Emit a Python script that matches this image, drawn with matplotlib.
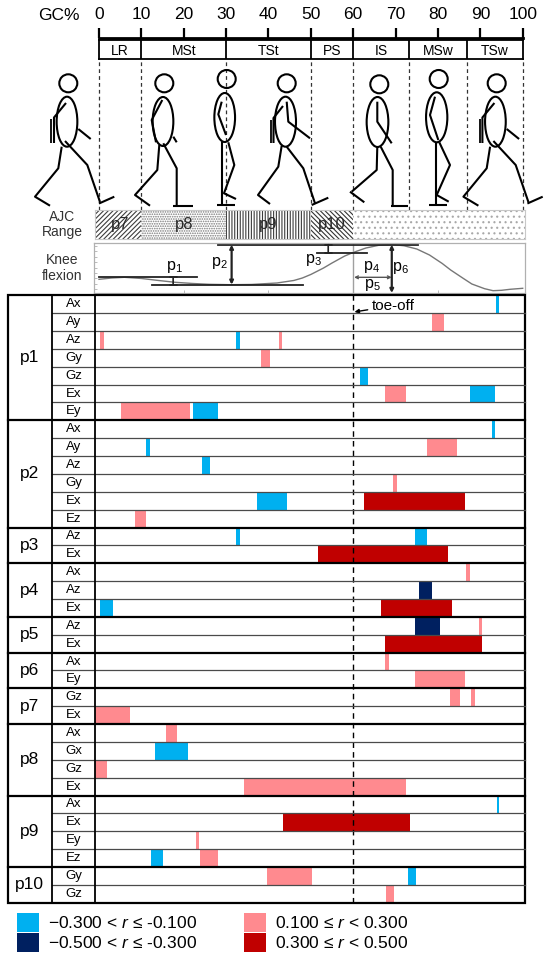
import numpy as np
import matplotlib
matplotlib.use('Agg')
import matplotlib.pyplot as plt
from matplotlib.patches import Circle, Ellipse, Rectangle

plt.rcParams['font.family'] = ['Liberation Sans', 'DejaVu Sans']
plt.rcParams['mathtext.fontset'] = 'custom'
plt.rcParams['mathtext.rm'] = 'Liberation Sans'
plt.rcParams['mathtext.it'] = 'Liberation Sans:italic'
plt.rcParams['mathtext.default'] = 'regular'
plt.rcParams['hatch.linewidth'] = 0.8

# --- data -------------------------------------------------------------
gc_ticks = [0, 10, 20, 30, 40, 50, 60, 70, 80, 90, 100]
phase_names = ['LR', 'MSt', 'TSt', 'PS', 'IS', 'MSw', 'TSw']
phase_edges = [0, 10, 30, 50, 60, 73.2, 86.8, 100]

ajc_names = ['p7', 'p8', 'p9', 'p10']
ajc_start = [-1, 10, 30, 50]
ajc_end = [10, 30, 50, 60]

# knee flexion (deg)
knee_gc = [0, 3, 6, 10, 14, 18, 22, 26, 31, 36, 42, 46, 48, 50, 53, 55, 58, 60,
           63, 66, 69, 72, 75, 78, 81, 83, 86, 88, 91, 93, 95, 97, 100]
knee_deg = [17.8, 19.5, 20.4, 18.9, 16.3, 13.9, 12.4, 11.3, 10.8, 11.1, 13.0, 16.3,
            19.5, 24.1, 32.5, 39.0, 48.1, 52.7, 58.5, 62.0, 63.1, 61.4, 57.2, 49.4,
            38.4, 29.9, 18.9, 11.7, 5.6, 3.0, 3.5, 4.8, 6.1]

groups = ['p1', 'p2', 'p3', 'p4', 'p5', 'p6', 'p7', 'p8', 'p9', 'p10']
group_vars = [['Ax', 'Ay', 'Az', 'Gy', 'Gz', 'Ex', 'Ey'],
              ['Ax', 'Ay', 'Az', 'Gy', 'Ex', 'Ez'],
              ['Az', 'Ex'],
              ['Ax', 'Az', 'Ex'],
              ['Az', 'Ex'],
              ['Ax', 'Ey'],
              ['Gz', 'Ex'],
              ['Ax', 'Gx', 'Gz', 'Ex'],
              ['Ax', 'Ex', 'Ey', 'Ez'],
              ['Gy', 'Gz']]

# significant windows: row index, start %, end %, class
bar_row = [0, 1, 2, 2, 2, 3, 4, 5, 5, 6, 6,
           7, 8, 8, 9, 10, 11, 11, 12,
           13, 13, 14,
           15, 16, 17, 17,
           18, 18, 19,
           20, 21,
           22, 22, 23,
           24, 25, 26, 27,
           28, 29, 30, 31, 31,
           32, 32, 33]
bar_start = [93.6, 78.5, 0.2, 32.4, 42.4, 38.3, 61.5, 67.5, 87.6, 5.2, 22.3,
             92.7, 11.2, 77.5, 24.3, 69.5, 37.4, 62.6, 8.4,
             32.4, 74.6, 51.6,
             86.6, 75.6, 0.2, 66.5,
             74.6, 89.6, 67.5,
             67.5, 74.6,
             82.9, 87.8, -1.0,
             15.8, 13.3, -1.0, 34.3,
             93.9, 43.4, 22.8, 12.3, 23.8,
             39.6, 72.9, 67.7]
bar_end = [94.4, 81.4, 1.2, 33.3, 43.3, 40.4, 63.4, 72.5, 93.5, 21.4, 28.2,
           93.4, 12.1, 84.5, 26.3, 70.4, 44.4, 86.4, 11.2,
           33.3, 77.5, 82.4,
           87.5, 78.5, 3.2, 83.4,
           80.4, 90.5, 90.5,
           68.4, 86.4,
           85.3, 88.7, 7.3,
           18.3, 21.1, 2.0, 72.5,
           94.5, 73.3, 23.7, 15.0, 28.1,
           50.2, 74.7, 69.6]
bar_class = ['lb', 'pk', 'pk', 'lb', 'pk', 'pk', 'lb', 'pk', 'lb', 'pk', 'lb',
             'lb', 'lb', 'pk', 'lb', 'pk', 'lb', 'dr', 'pk',
             'lb', 'lb', 'dr',
             'pk', 'nv', 'lb', 'dr',
             'nv', 'pk', 'dr',
             'pk', 'pk',
             'pk', 'pk', 'pk',
             'pk', 'lb', 'pk', 'pk',
             'lb', 'dr', 'pk', 'lb', 'pk',
             'pk', 'lb', 'pk']

class_color = {'lb': '#00b0f0', 'nv': '#002060', 'pk': '#ff8a8f', 'dr': '#c00000'}
legend_labels = {'lb': '\u22120.300 < $\\mathit{r}$ \u2264 -0.100',
                 'nv': '\u22120.500 < $\\mathit{r}$ \u2264 -0.300',
                 'pk': '0.100 \u2264 $\\mathit{r}$ < 0.300',
                 'dr': '0.300 \u2264 $\\mathit{r}$ < 0.500'}

# --- layout helpers ---------------------------------------------------
W, H = 550, 961
GC0, GCS = 99.0, 4.237   # pixel of 0 % and pixels per %

fig = plt.figure(figsize=(W / 100, H / 100), dpi=100)


def px_axes(x0, y0, x1, y1, z=1):
    return fig.add_axes([x0 / W, 1 - y1 / H, (x1 - x0) / W, (y1 - y0) / H], zorder=z)


def gc_lim(x0, x1):
    return ((x0 - GC0) / GCS, (x1 - GC0) / GCS)


# overlay in pixel units for drawings / table frame
ov = px_axes(0, 0, W, H, z=5)
ov.set_xlim(0, W)
ov.set_ylim(H, 0)
ov.axis('off')

# --- GC% axis ---------------------------------------------------------
ax_top = px_axes(GC0, 37.7, GC0 + 100 * GCS, 39)
ax_top.set_xlim(0, 100)
ax_top.set_ylim(0, 1)
for s in ['left', 'right', 'bottom']:
    ax_top.spines[s].set_visible(False)
ax_top.spines['top'].set_linewidth(2)
ax_top.set_yticks([])
ax_top.set_xticks(gc_ticks)
ax_top.tick_params(axis='x', top=True, bottom=False, labeltop=True, labelbottom=False,
                   direction='out', length=7.5, width=1.6, pad=4, labelsize=12.5)
ax_top.patch.set_visible(False)
ov.text(59, 15, 'GC%', fontsize=12.5, ha='center', va='center')

# phase boxes
ax_ph = px_axes(GC0, 40, GC0 + 100 * GCS, 59.3)
ax_ph.set_xlim(0, 100)
ax_ph.set_ylim(0, 1)
ax_ph.set_xticks([])
ax_ph.set_yticks([])
for s in ax_ph.spines.values():
    s.set_linewidth(1.3)
for e in phase_edges[1:-1]:
    ax_ph.axvline(e, color='k', lw=1.3)
for i, name in enumerate(phase_names):
    ax_ph.text((phase_edges[i] + phase_edges[i + 1]) / 2, 0.45, name,
               ha='center', va='center', fontsize=10)

# dashed phase boundaries through the figures
ax_d = px_axes(GC0, 59.3, GC0 + 100 * GCS, 210)
ax_d.set_xlim(0, 100)
ax_d.set_ylim(0, 1)
ax_d.axis('off')
for e in phase_edges:
    ax_d.axvline(e, color='#333333', lw=0.9, ls=(0, (3, 2.5)), clip_on=False)

# --- stick figures (drawing, pixel units) -----------------------------
walker_a = dict(head=(68.3, 83.3), body=(67, 121.7, 20.7, 50),
                lines=[[(66, 103), (54, 117.5), (54, 143)],
                       [(51.3, 119), (51.3, 143)],
                       [(78.3, 129), (90.7, 139)],
                       [(61.7, 146.7), (58.3, 168.3), (35, 196.7), (50, 205.7)],
                       [(65, 141), (87.3, 165), (100, 202)],
                       [(99, 203.5), (114.3, 196.7)]])


def shifted(w, dx):
    return dict(head=(w['head'][0] + dx, w['head'][1]),
                body=(w['body'][0] + dx,) + w['body'][1:],
                lines=[[(x + dx, y) for x, y in ln] for ln in w['lines']])


walkers = [
    walker_a,
    dict(head=(164.3, 83.3), body=(163, 121.5, 20.7, 49),
         lines=[[(162.3, 100), (151.7, 120), (156, 142.3)],
                [(173.3, 136.7), (176.7, 142.3)],
                [(159.3, 145), (157.3, 170), (135, 195), (150, 205.7)],
                [(163.3, 143.3), (176.7, 168.3), (176.7, 205.7)],
                [(173.3, 205.7), (192.7, 205.7)]]),
    dict(head=(226.7, 79), body=(224.7, 117.5, 20.7, 49),
         lines=[[(221.7, 101.7), (218.3, 114.3), (226, 135)],
                [(222.3, 142.3), (222.3, 204.3)],
                [(216.7, 205), (235, 205)],
                [(228.3, 142.3), (234.3, 165), (224, 193.3), (236, 199)]]),
    dict(head=(286.7, 83.3), body=(285.5, 121.7, 21, 50),
         lines=[[(286.7, 101.7), (288.3, 121.7), (310, 138.3)],
                [(283, 106), (273.5, 118), (273.5, 143)],
                [(270.8, 120), (270.8, 143)],
                [(281.7, 145.7), (278.3, 166.7), (258, 195), (270, 204)],
                [(286.7, 146.7), (303.3, 168.3), (315, 203.3)],
                [(311.7, 205), (328.3, 197.7)]]),
    dict(head=(379.3, 84.3), body=(377.5, 122, 21.7, 50),
         lines=[[(377.3, 101.7), (377.3, 121.7), (391.7, 143.3)],
                [(377.3, 146.7), (376.7, 170), (351.7, 191.7)],
                [(350, 191.7), (364.3, 202.3)],
                [(380.7, 146.7), (392.7, 170), (392.7, 205.7)],
                [(390.7, 205.7), (408.3, 205.7)]]),
    dict(head=(438.7, 79), body=(436.7, 117.3, 21.3, 50),
         lines=[[(435, 96.7), (430, 115), (438.3, 140)],
                [(435.7, 142.3), (435.7, 204.3)],
                [(429.3, 205), (446.7, 205)],
                [(439.3, 142.3), (450, 165), (436.7, 195), (448.7, 201.7)]]),
    shifted(walker_a, 428.4),
]
for w in walkers:
    ov.add_patch(Circle(w['head'], 9, fill=False, lw=1.5, color='k'))
    bx, by, bw, bh = w['body']
    ov.add_patch(Ellipse((bx, by), bw, bh, fill=False, lw=1.5, color='k'))
    for ln in w['lines']:
        xs, ys = zip(*ln)
        ov.plot(xs, ys, color='k', lw=1.3 if len(ln) == 2 and xs[0] == xs[1] and ys[1] - ys[0] < 30 else 1.5,
                solid_capstyle='butt')

# --- AJC range band ---------------------------------------------------
ax_b = px_axes(95, 210, 525, 239)
ax_b.set_xlim(gc_lim(95, 525))
ax_b.set_ylim(0, 1)
ax_b.set_xticks([])
ax_b.set_yticks([])
for s in ax_b.spines.values():
    s.set_color('#c8c8c8')
    s.set_linewidth(0.8)
band_hatch = ['///////', '.......', '||||||', '\\\\\\\\\\\\\\']
band_color = ['#3c3c3c', '#7a7a7a', '#3c3c3c', '#333333']
for name, a, b, hch, hc in zip(ajc_names, ajc_start, ajc_end, band_hatch, band_color):
    ax_b.axvspan(a, b, facecolor='white', edgecolor=hc, hatch=hch, lw=0)
    ax_b.text((max(a, 0) + b) / 2, 0.5, name, ha='center', va='center',
              fontsize=12, color='#2a2a2a')
ax_b.axvspan(60, 101, facecolor='white', edgecolor='#a8a8a8', hatch='...', lw=0)
ov.text(62, 224.5, 'AJC\nRange', ha='center', va='center', fontsize=10,
        color='#333333', linespacing=1.15)

# --- knee flexion panel -----------------------------------------------
ax_k = px_axes(94, 243, 525, 293)
ax_k.set_xlim(gc_lim(94, 525))
ax_k.set_ylim(0, 65)
for s in ax_k.spines.values():
    s.set_color('#b0b0b0')
    s.set_linewidth(0.9)
ax_k.set_xticks([20, 40, 60, 80])
ax_k.set_yticks(np.arange(5, 65, 7))
ax_k.tick_params(direction='in', length=2.5, width=0.6, color='#b0b0b0',
                 labelbottom=False, labelleft=False)
ax_k.plot(knee_gc, knee_deg, color='#777777', lw=1.0)
ax_k.axvline(60, color='#a0a0a0', lw=1.0)

knee_max, knee_min, knee_p1, knee_p3 = 62.8, 10.8, 20.4, 52.0
lc = '#222222'
ax_k.plot([28.2, 75.4], [knee_max, knee_max], color=lc, lw=1.3)
ax_k.plot([12.4, 48.2], [knee_min, knee_min], color=lc, lw=1.3)
ax_k.plot([0, 23.2], [knee_p1, knee_p1], color=lc, lw=1.3)
ax_k.plot([51.4, 63.2], [knee_p3, knee_p3], color=lc, lw=1.3)
ax_k.annotate('', xy=(17.5, knee_min), xytext=(17.5, knee_p1),
              arrowprops=dict(arrowstyle='|-|, widthA=0.25, widthB=0.25', color=lc, lw=1.2,
                              shrinkA=0, shrinkB=0))
ax_k.annotate('', xy=(54.1, knee_p3), xytext=(54.1, knee_max),
              arrowprops=dict(arrowstyle='|-|, widthA=0.25, widthB=0.25', color=lc, lw=1.2,
                              shrinkA=0, shrinkB=0))
ax_k.annotate('', xy=(31.3, knee_min), xytext=(31.3, knee_max),
              arrowprops=dict(arrowstyle='<->', color=lc, lw=1.6, mutation_scale=5,
                              shrinkA=0, shrinkB=0))
ax_k.annotate('', xy=(69.1, 0), xytext=(69.1, knee_max),
              arrowprops=dict(arrowstyle='<->', color=lc, lw=1.6, mutation_scale=5,
                              shrinkA=0, shrinkB=0))
ax_k.annotate('', xy=(60.2, knee_p1), xytext=(69.1, knee_p1),
              arrowprops=dict(arrowstyle='<->', color='#555555', lw=1.0, mutation_scale=5,
                              shrinkA=0, shrinkB=0))
kfs = 11.5
ax_k.text(17.8, 33.4, 'p$_1$', ha='center', va='center', fontsize=kfs)
ax_k.text(28.4, 39.0, 'p$_2$', ha='center', va='center', fontsize=kfs)
ax_k.text(50.7, 43.3, 'p$_3$', ha='center', va='center', fontsize=kfs)
ax_k.text(64.4, 33.8, 'p$_4$', ha='center', va='center', fontsize=kfs)
ax_k.text(64.4, 10.8, 'p$_5$', ha='center', va='center', fontsize=kfs)
ax_k.text(71.2, 32.5, 'p$_6$', ha='center', va='center', fontsize=kfs)
ov.text(62, 268, 'Knee\nflexion', ha='center', va='center', fontsize=10,
        color='#333333', linespacing=1.25)

# --- correlation table ------------------------------------------------
T_TOP, T_BOT = 295.3, 902.7
X_L, X_G, X_V, X_R = 7.7, 51.9, 95.4, 525.3
n_rows = sum(len(v) for v in group_vars)
row_h = (T_BOT - T_TOP) / n_rows

tb = px_axes(X_V, T_TOP, X_R, T_BOT)
tb.set_xlim(gc_lim(X_V, X_R))
tb.set_ylim(n_rows, 0)
tb.axis('off')
for r, a, b, c in zip(bar_row, bar_start, bar_end, bar_class):
    tb.barh(r + 0.5, b - a, left=a, height=1.0, color=class_color[c], lw=0)
tb.axvline(60, color='k', lw=1.0, ls=(0, (4, 3)))
tb.annotate('toe-off', xy=(60.3, 0.93), xytext=(64.4, 0.58), fontsize=11,
            ha='left', va='center',
            arrowprops=dict(arrowstyle='-|>', color='k', lw=1.0, mutation_scale=6,
                            shrinkA=1, shrinkB=0))

group_bounds = np.cumsum([0] + [len(v) for v in group_vars])
row = 0
for g, vars_ in zip(groups, group_vars):
    for v in vars_:
        ov.text((X_G + X_V) / 2, T_TOP + (row + 0.5) * row_h, v,
                ha='center', va='center', fontsize=9.5)
        row += 1
for gi, g in enumerate(groups):
    yc = T_TOP + (group_bounds[gi] + group_bounds[gi + 1]) / 2 * row_h
    ov.text((X_L + X_G) / 2, yc, g, ha='center', va='center', fontsize=12.5)

for i in range(1, n_rows):
    y = T_TOP + i * row_h
    if i in group_bounds:
        ov.plot([X_L, X_R], [y, y], color='k', lw=1.6)
    else:
        ov.plot([X_G, X_R], [y, y], color='#4a4a4a', lw=0.9)
ov.add_patch(Rectangle((X_L, T_TOP), X_R - X_L, T_BOT - T_TOP, fill=False, lw=1.6, color='k'))
ov.plot([X_G, X_G], [T_TOP, T_BOT], color='k', lw=1.3)
ov.plot([X_V, X_V], [T_TOP, T_BOT], color='k', lw=1.3)

# --- legend -----------------------------------------------------------
leg_pos = {'lb': (16.7, 913.3), 'nv': (16.7, 933.3), 'pk': (243.7, 913.3), 'dr': (243.7, 933.3)}
for c, (lx, ly) in leg_pos.items():
    ov.add_patch(Rectangle((lx, ly), 22.3, 18.4, color=class_color[c], lw=0))
    ov.text(lx + 31, ly + 9.6, legend_labels[c], ha='left', va='center', fontsize=12.5)

fig.savefig('out.png', dpi=100)
